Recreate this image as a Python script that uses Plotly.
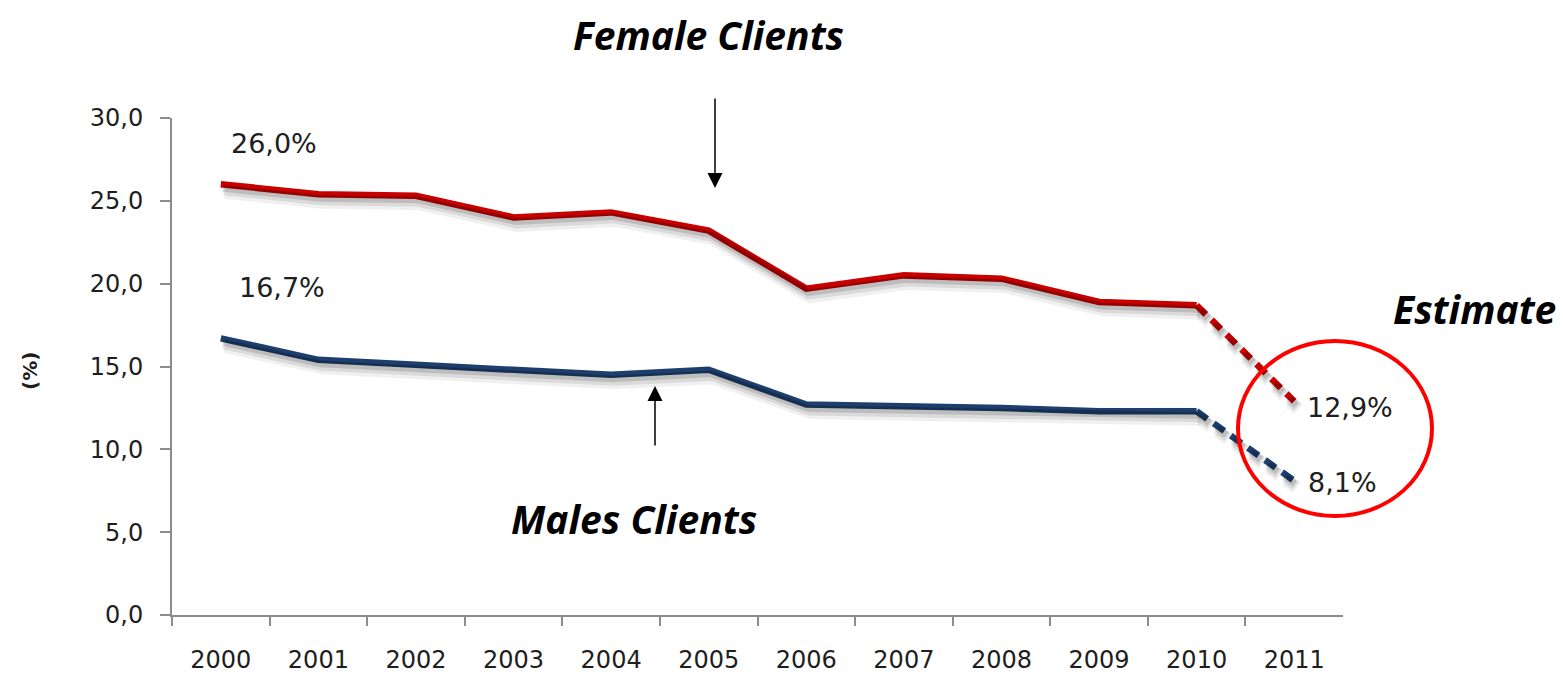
import plotly.graph_objects as go

# Share of clients by year (%)
years = ["2000", "2001", "2002", "2003", "2004", "2005",
         "2006", "2007", "2008", "2009", "2010", "2011"]
female = [26.0, 25.4, 25.3, 24.0, 24.3, 23.2, 19.7, 20.5, 20.3, 18.9, 18.7, 12.9]
male = [16.7, 15.4, 15.1, 14.8, 14.5, 14.8, 12.7, 12.6, 12.5, 12.3, 12.3, 8.1]
y_ticks = [0, 5, 10, 15, 20, 25, 30]

RED = "#C80000"
NAVY = "#1E3F6E"
AXIS = "#8C8C8C"
TXT = "#1E1E1E"

W, H = 1563, 676
PX_L, PX_R, PX_T, PX_B = 172, 1343, 118, 615


def px(x):
    return x / W


def py(y):
    return 1 - y / H


x_dom = [px(PX_L), px(PX_R)]
y_dom = [py(PX_B), py(PX_T)]

fig = go.Figure()

# soft drop shadow: same series on hidden axes nudged right/down
shadows = [(4, 8, "rgba(0,0,0,0.06)", 13), (3, 6, "rgba(0,0,0,0.09)", 10),
           (2, 4, "rgba(0,0,0,0.13)", 7)]
for i, (dx, dy, col, w) in enumerate(shadows, start=2):
    xa, ya = f"x{i}", f"y{i}"
    for vals in (female, male):
        fig.add_trace(go.Scatter(x=years[:11], y=vals[:11], mode="lines", xaxis=xa, yaxis=ya,
                                 line=dict(color=col, width=w), hoverinfo="skip", showlegend=False))
        fig.add_trace(go.Scatter(x=years[10:], y=vals[10:], mode="lines", xaxis=xa, yaxis=ya,
                                 line=dict(color=col, width=w, dash="13px,8px"),
                                 hoverinfo="skip", showlegend=False))
    fig.layout[f"xaxis{i}"] = dict(type="category", domain=[px(PX_L + dx), px(PX_R + dx)],
                                   range=[-0.5, 11.5], visible=False, anchor=ya, automargin=False)
    fig.layout[f"yaxis{i}"] = dict(domain=[py(PX_B + dy), py(PX_T + dy)], range=[0, 30],
                                   visible=False, anchor=xa, automargin=False)

# main series: solid through 2010, dashed estimate for 2011
for name, vals, col in (("Female", female, RED), ("Male", male, NAVY)):
    fig.add_trace(go.Scatter(x=years[:11], y=vals[:11], mode="lines", name=name,
                             line=dict(color=col, width=6.5), showlegend=False))
    fig.add_trace(go.Scatter(x=years[10:], y=vals[10:], mode="lines", name=name + " estimate",
                             line=dict(color=col, width=6.5, dash="13px,8px"), showlegend=False))


def fmt(v):
    return f"{v:.1f}".replace(".", ",") + "%"


label_font = dict(family="DejaVu Sans", size=27, color=TXT)
first, last = 0, len(years) - 1
# value labels at first and last points (category index positions)
for i, v, xs, ys in ((first, female[first], 8, 41), (first, male[first], 16, 51),
                     (last, female[last], 11, -6), (last, male[last], 12, -2)):
    fig.add_annotation(x=i, y=v, xref="x", yref="y", text=fmt(v), showarrow=False,
                       xanchor="left", yanchor="middle", xshift=xs, yshift=ys, font=label_font)

title_font = dict(family="Open Sans, sans-serif", size=39, color="black")
for text, cx, cy, xanc in (("Female Clients", 708, 35, "center"),
                           ("Males Clients", 634, 518, "center"),
                           ("Estimate", 1558, 308, "right")):
    fig.add_annotation(x=px(cx), y=py(cy), xref="paper", yref="paper",
                       text=f"<b><i>{text}</i></b>", showarrow=False,
                       xanchor=xanc, yanchor="middle", font=title_font)

# pointer arrows
fig.add_annotation(x=px(715), y=py(188), xref="paper", yref="paper", text="", showarrow=True,
                   ax=0, ay=-91, arrowhead=2, arrowsize=2, arrowwidth=1.5, arrowcolor="black")
fig.add_annotation(x=px(655), y=py(386), xref="paper", yref="paper", text="", showarrow=True,
                   ax=0, ay=61, arrowhead=2, arrowsize=2, arrowwidth=1.5, arrowcolor="black")

# y axis title
fig.add_annotation(x=px(30), y=py(371), xref="paper", yref="paper", text="<b>(%)</b>",
                   textangle=-90, showarrow=False, xanchor="center", yanchor="middle",
                   font=dict(family="DejaVu Sans", size=20, color=TXT))

# ellipse around the estimates
fig.add_shape(type="circle", xref="paper", yref="paper", x0=px(1238), x1=px(1432),
              y0=py(516), y1=py(341), line=dict(color="#FF0000", width=4))

tick_font = dict(family="DejaVu Sans", size=24, color=TXT)
fig.update_layout(
    template="none",
    width=W, height=H, autosize=False,
    margin=dict(l=0, r=0, t=0, b=0, pad=0),
    paper_bgcolor="white", plot_bgcolor="rgba(0,0,0,0)",
    separators=",.",
    showlegend=False,
    xaxis=dict(type="category", domain=x_dom, range=[-0.5, 11.5], showline=True, linecolor=AXIS,
               linewidth=2, ticks="outside", tickson="boundaries", ticklen=9, tickwidth=2,
               tickcolor=AXIS, showgrid=False, zeroline=False, tickfont=tick_font,
               ticklabelstandoff=22, anchor="y", automargin=False),
    yaxis=dict(domain=y_dom, range=[0, 30], tickvals=y_ticks, tickformat=".1f", showline=True,
               linecolor=AXIS, linewidth=2, ticks="outside", ticklen=10, tickwidth=2,
               tickcolor=AXIS, showgrid=False, zeroline=False, tickfont=tick_font,
               ticklabelstandoff=12, anchor="x", automargin=False),
)

fig.write_html("out.html")
